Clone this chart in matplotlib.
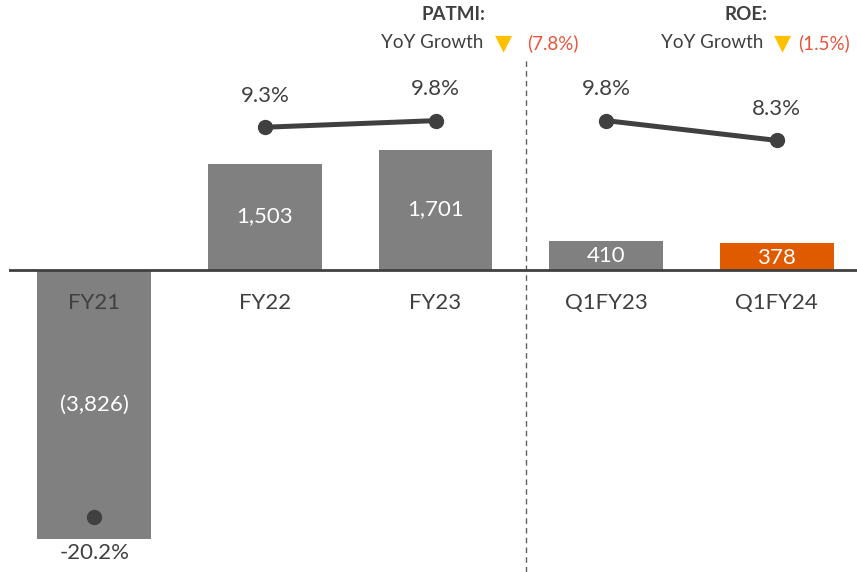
import matplotlib
matplotlib.use("Agg")
import matplotlib.pyplot as plt

categories = ["FY21", "FY22", "FY23", "Q1FY23", "Q1FY24"]
patmi = [-3826, 1503, 1701, 410, 378]
patmi_labels = ["(3,826)", "1,503", "1,701", "410", "378"]
roe = [-20.2, 9.3, 9.8, 9.8, 8.3]
roe_labels = ["-20.2%", "9.3%", "9.8%", "9.8%", "8.3%"]
bar_colors = ["#808080", "#808080", "#808080", "#808080", "#E05A00"]

FONT = "Lato"
TXT = "#404040"

fig = plt.figure(figsize=(8.57, 5.72), dpi=100)
ax = fig.add_axes([9/857, 0, 1 - 9/857, 1])
ax.set_xlim(-0.5, 4.47)
ax.set_ylim(-4291, 3823)
ax.axis("off")

x = list(range(len(categories)))
ax.bar(x, patmi, width=0.667, color=bar_colors, zorder=2)
ax.axhline(0, color="#404040", lw=2, zorder=3)

for i, (v, lab) in enumerate(zip(patmi, patmi_labels)):
    yv = v / 2 if abs(v) > 1000 else v / 2 - 20
    ax.text(i, yv, lab, ha="center", va="center", color="white",
            fontsize=16, family=FONT, zorder=4)
    ax.text(i, -480, categories[i], ha="center", va="center", color=TXT,
            fontsize=16, family=FONT, zorder=4)

ax.plot([2.53, 2.53], [-4291, 3000], color="#606060", lw=1,
        linestyle=(0, (4, 3)), zorder=1)

ax2 = ax.twinx()
ax2.set_ylim(-24.4, 18.94)
ax2.axis("off")
ax2.plot(x[1:3], roe[1:3], color="#404040", lw=3.6, marker="o", ms=10, zorder=5)
ax2.plot(x[3:5], roe[3:5], color="#404040", lw=3.6, marker="o", ms=10, zorder=5)
ax2.plot(x[0:1], roe[0:1], color="#404040", lw=0, marker="o", ms=10, zorder=5)
for i, (v, lab) in enumerate(zip(roe, roe_labels)):
    off = 2.4 if v > 0 else -2.75
    ax2.text(i, v + off, lab, ha="center", va="center", color=TXT,
             fontsize=16, family=FONT, zorder=6)

# Header annotations
def header(title, cx, x_yoy_right, x_tri, x_pct, pct):
    fig.text(cx / 857, 1 - 15 / 572, title, ha="center", va="center",
             fontsize=13.5, fontweight="bold", color=TXT, family=FONT)
    fig.text(x_yoy_right / 857, 1 - 43 / 572, "YoY Growth", ha="right", va="center",
             fontsize=13.5, color=TXT, family=FONT)
    fig.text(x_tri / 857, 1 - 43 / 572, "▼", ha="center", va="center",
             fontsize=16, color="#FFC000", family="DejaVu Sans")
    fig.text(x_pct / 857, 1 - 43 / 572, pct, ha="left", va="center",
             fontsize=13.5, color="#E8553A", family=FONT)

header("PATMI:", 453, 483, 503, 527, "(7.8%)")
header("ROE:", 746, 763, 783, 798, "(1.5%)")

fig.savefig("out.png", dpi=100)
